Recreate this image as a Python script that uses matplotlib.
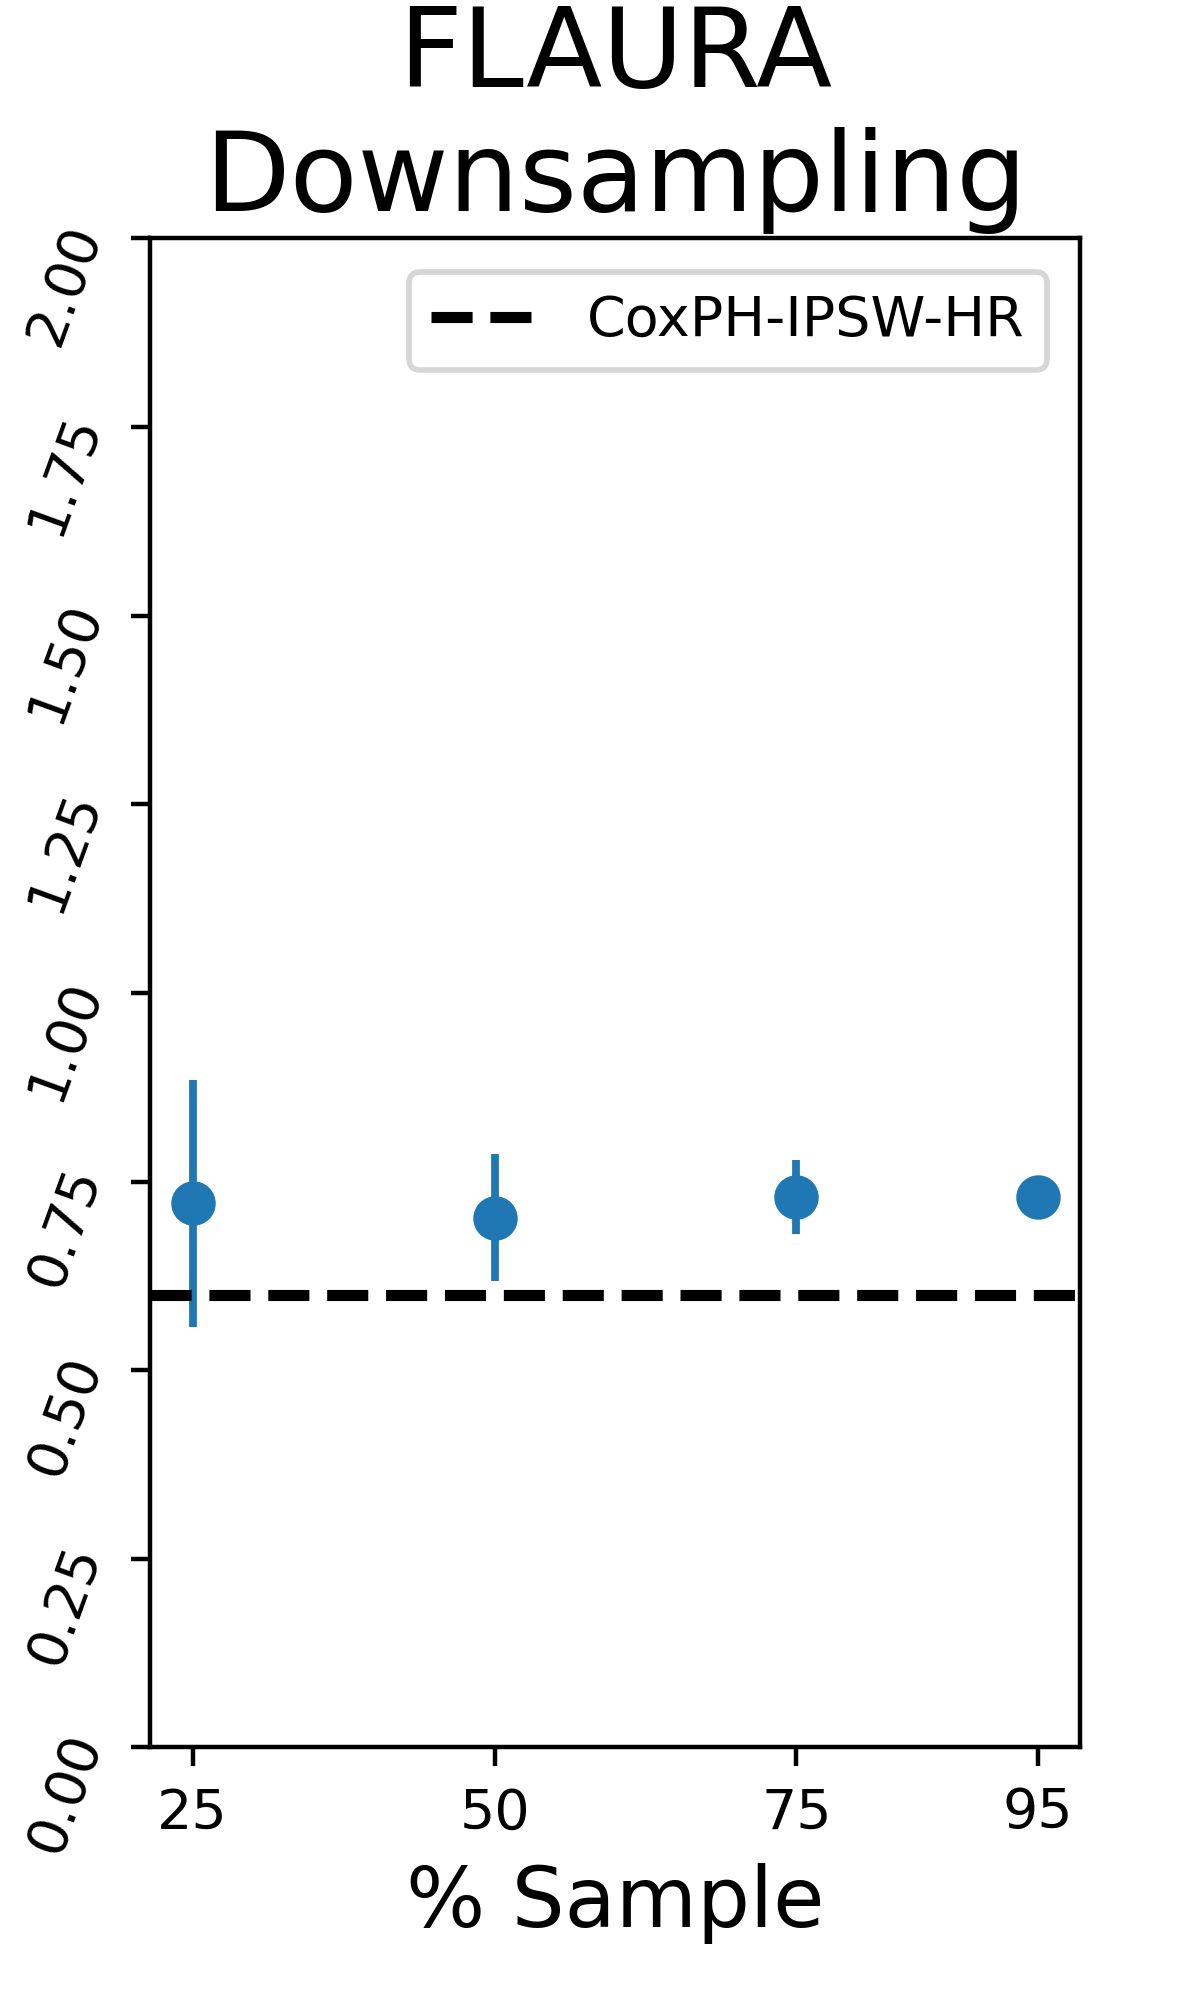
import matplotlib
matplotlib.use("Agg")
import matplotlib.pyplot as plt
import numpy as np

# Data
sample_pct = [25, 50, 75, 95]
hr_mean = [0.721, 0.701, 0.730, 0.730]
hr_lower = [0.557, 0.618, 0.680, 0.715]
hr_upper = [0.884, 0.786, 0.779, 0.745]
ref_hr = 0.60
ref_label = "CoxPH-IPSW-HR"
title = "FLAURA\nDownsampling"
xlabel = "% Sample"
yticks = [0.0, 0.25, 0.5, 0.75, 1.0, 1.25, 1.5, 1.75, 2.0]

fig = plt.figure(figsize=(3, 5), dpi=400)
ax = fig.add_axes([0.1254, 0.1263, 0.7748, 0.7545])

mean = np.array(hr_mean)
yerr = np.vstack([mean - np.array(hr_lower), np.array(hr_upper) - mean])
ax.errorbar(sample_pct, hr_mean, yerr=yerr, fmt='o', color='#1f77b4',
            markersize=7, elinewidth=1.4)
ax.axhline(ref_hr, color='black', linestyle='--', linewidth=2, label=ref_label)

ax.set_ylim(0, 2)
ax.set_yticks(yticks)
ax.set_yticklabels([f"{v:.2f}" for v in yticks], rotation=70)
ax.set_xticks(sample_pct)
ax.tick_params(labelsize=10)
ax.set_xlabel(xlabel, fontsize=15)
ax.set_title(title, fontsize=20, pad=5)
ax.legend(loc='upper right', fontsize=10, borderaxespad=0.6)

fig.savefig("out.png", dpi=400)
